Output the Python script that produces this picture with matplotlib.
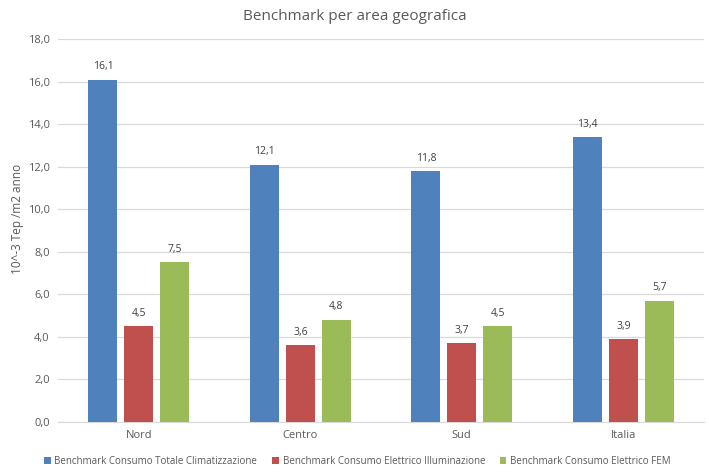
import matplotlib
matplotlib.use("Agg")
import matplotlib.pyplot as plt
import numpy as np

categories = ["Nord", "Centro", "Sud", "Italia"]
series_names = ["Benchmark Consumo Totale Climatizzazione",
                "Benchmark Consumo Elettrico Illuminazione",
                "Benchmark Consumo Elettrico FEM"]
totale = [16.1, 12.1, 11.8, 13.4]
illuminazione = [4.5, 3.6, 3.7, 3.9]
fem = [7.5, 4.8, 4.5, 5.7]
colors = ["#4F81BD", "#C0504D", "#9BBB59"]
yticks = [0, 2, 4, 6, 8, 10, 12, 14, 16, 18]

plt.rcParams['font.family'] = ['Open Sans', 'DejaVu Sans']
txt = "#595959"

fig = plt.figure(figsize=(7.09, 4.72), dpi=100)
ax = fig.add_axes([0.082, 0.106, 0.911, 0.811])

x = np.arange(len(categories))
w = 0.18
step = 0.223
for i, (vals, name, c) in enumerate(zip([totale, illuminazione, fem], series_names, colors)):
    pos = x + (i - 1) * step
    bars = ax.bar(pos, vals, width=w, color=c, label=name, zorder=3)
    for b, v in zip(bars, vals):
        ax.text(b.get_x() + b.get_width() / 2, v + 0.35, f"{v:.1f}".replace('.', ','),
                ha='center', va='bottom', fontsize=7.5, color="#404040")

ax.set_xlim(-0.5, len(categories) - 0.5)
ax.set_ylim(0, 18)
ax.set_yticks(yticks)
ax.set_yticklabels([f"{t:.1f}".replace('.', ',') for t in yticks], fontsize=8, color=txt)
ax.set_xticks(x)
ax.set_xticklabels(categories, fontsize=8, color=txt)
ax.tick_params(axis='both', length=0, pad=6)
ax.grid(axis='y', color="#D9D9D9", linewidth=0.9, zorder=0)
for s in ['top', 'right', 'left']:
    ax.spines[s].set_visible(False)
ax.spines['bottom'].set_color("#D9D9D9")
ax.set_ylabel("10^-3 Tep /m2 anno", fontsize=8.5, color=txt)
ax.yaxis.set_label_coords(-0.053, 0.53)
fig.text(0.5, 0.965, "Benchmark per area geografica", ha='center', va='center',
         fontsize=11, color=txt)
fig.legend(loc='center', bbox_to_anchor=(0.504, 0.022), ncol=3, frameon=False,
           fontsize=7, handlelength=0.7, handleheight=0.7, handletextpad=0.4,
           columnspacing=1.5, labelcolor=txt)
fig.savefig("out.png", dpi=100)
